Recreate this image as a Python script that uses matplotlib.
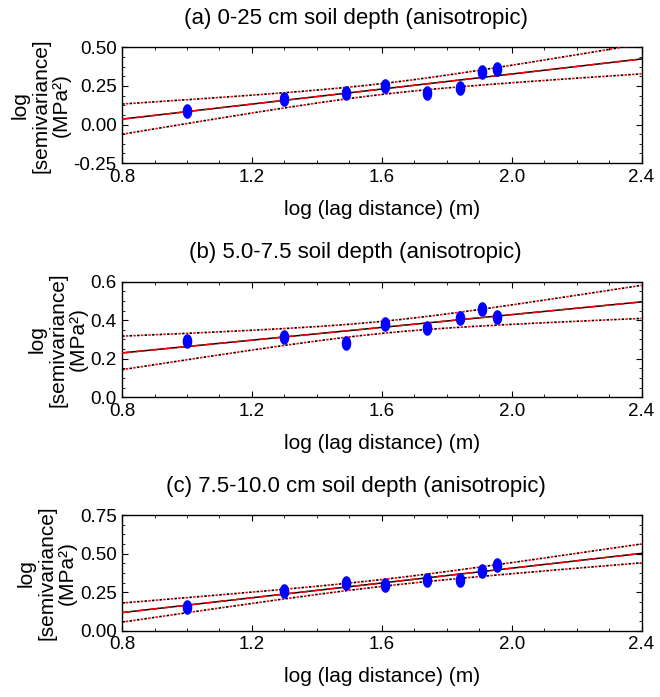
import numpy as np
import matplotlib
matplotlib.use("Agg")
import matplotlib.pyplot as plt
from matplotlib.ticker import MultipleLocator, AutoMinorLocator

plt.rcParams['font.family'] = ['Liberation Sans', 'DejaVu Sans']

# -----------------------
# DATA
# -----------------------
log_lag = [1.0, 1.30, 1.49, 1.61, 1.74, 1.84, 1.91, 1.955]

semivar_a = [0.09, 0.163, 0.206, 0.25, 0.202, 0.239, 0.343, 0.358]
semivar_b = [0.29, 0.315, 0.28, 0.38, 0.36, 0.41, 0.457, 0.415]
semivar_c = [0.155, 0.255, 0.31, 0.295, 0.33, 0.33, 0.39, 0.425]

titles = [
    "(a) 0-25 cm soil depth (anisotropic)",
    "(b) 5.0-7.5 soil depth (anisotropic)",
    "(c) 7.5-10.0 cm soil depth (anisotropic)",
]
ylims = [(-0.25, 0.5), (0.0, 0.6), (0.0, 0.75)]
ysteps = [0.25, 0.2, 0.25]
yfmts = ["%.2f", "%.1f", "%.2f"]

T_95 = 2.447  # t(0.975, df=6)


def fit_band(x, y, xs):
    x = np.asarray(x)
    y = np.asarray(y)
    slope, icpt = np.polyfit(x, y, 1)
    res = y - (icpt + slope * x)
    s = np.sqrt(np.sum(res ** 2) / (len(x) - 2))
    sxx = np.sum((x - x.mean()) ** 2)
    yhat = icpt + slope * xs
    half = T_95 * s * np.sqrt(1 / len(x) + (xs - x.mean()) ** 2 / sxx)
    return yhat, yhat - half, yhat + half


fig = plt.figure(figsize=(6.6, 6.97), dpi=100)
H = 697.0

left, width, height = 0.185, 0.787, 0.166
bottoms = [0.766, 0.430, 0.095]

xs = np.linspace(0.8, 2.4, 200)

# tall ellipse marker
t = np.linspace(0, 2 * np.pi, 40)
ellipse = list(zip(0.62 * np.cos(t), np.sin(t)))

for k, yvals in enumerate([semivar_a, semivar_b, semivar_c]):
    ax = fig.add_axes([left, bottoms[k], width, height])

    yhat, lo, hi = fit_band(log_lag, yvals, xs)

    # fit line: black under red dashes
    ax.plot(xs, yhat, color="black", lw=1.1, zorder=2)
    ax.plot(xs, yhat, color="red", lw=1.1, dashes=(6, 3), zorder=3)

    # confidence band: alternating black / red dots
    for band in (lo, hi):
        ax.plot(xs, band, color="black", lw=1.2, linestyle=(0, (1.5, 3.0)), zorder=2)
        ax.plot(xs, band, color="red", lw=1.2, linestyle=(2.25, (1.5, 3.0)), zorder=3)

    ax.plot(log_lag, yvals, linestyle="none", marker=ellipse, markersize=9.5,
            color="blue", zorder=4)

    ax.set_xlim(0.8, 2.4)
    ax.set_ylim(*ylims[k])
    ax.xaxis.set_major_locator(MultipleLocator(0.4))
    ax.xaxis.set_minor_locator(MultipleLocator(0.1))
    ax.yaxis.set_major_locator(MultipleLocator(ysteps[k]))
    ax.yaxis.set_minor_locator(AutoMinorLocator(4))
    ax.yaxis.set_major_formatter(plt.FormatStrFormatter(yfmts[k]))
    ax.xaxis.set_major_formatter(plt.FormatStrFormatter("%.1f"))

    ax.tick_params(which="both", direction="in", top=True, right=True,
                   labelsize=13.5, colors="black")
    ax.tick_params(which="major", length=4, width=0.8, pad=4)
    ax.tick_params(which="minor", length=2, width=0.6)
    for sp in ax.spines.values():
        sp.set_linewidth(1.0)

    # title sits ~29 px above the top spine, a bit left of axes centre
    top_px = (1 - (bottoms[k] + height)) * H
    fig.text(0.539, 1 - (top_px - 29) / H, titles[k], fontsize=16,
             ha="center", va="center")

    ax.set_xlabel("log (lag distance) (m)", fontsize=15, labelpad=10)
    ax.set_ylabel("log\n[semivariance]\n(MPa²)", fontsize=15,
                  linespacing=1.1, labelpad=2)

fig.savefig("out.png", dpi=100)
